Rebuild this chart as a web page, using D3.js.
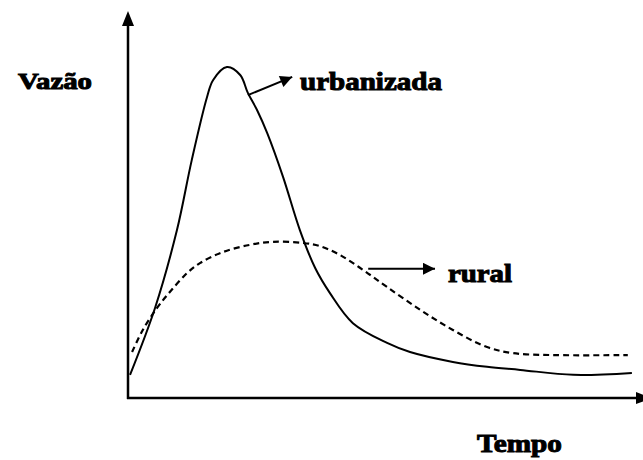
<!DOCTYPE html>
<html>
<head>
<meta charset="utf-8">
<script src="https://cdn.jsdelivr.net/npm/d3@7"></script>
<style>
  body { margin: 0; background: #fff; }
  text { font-family: "Liberation Serif", "Times New Roman", serif; font-weight: bold; fill: #000; }
</style>
</head>
<body>
<div id="chart"></div>
<script>
// hydrograph: time (0-100) vs discharge (0-100)
const urbanTime = [0.4, 5.3, 9.6, 12.5, 15.5, 16.7, 19.4, 22.0, 23.5, 25.3, 27.3, 30.4, 33.7, 36.7, 39.6, 44.1, 50.8, 55.3, 63.7, 70.4, 76.9, 87.3, 98.8];
const urbanFlow = [6.1, 23.7, 44.2, 62.6, 79.2, 83.7, 87.1, 85.0, 80.3, 75.8, 69.7, 58.2, 44.2, 34.2, 27.6, 19.7, 14.5, 12.1, 9.5, 8.2, 7.4, 6.1, 6.6];

const ruralTime = [0.8, 2.9, 5.7, 8.2, 11.6, 14.1, 18.6, 23.9, 28.4, 34.3, 37.6, 41.6, 46.1, 50.8, 57.3, 63.7, 70.4, 75.5, 83.3, 98.0];
const ruralFlow = [12.1, 17.9, 23.7, 27.9, 32.9, 35.5, 38.4, 40.3, 41.1, 40.8, 40.0, 37.6, 33.7, 29.2, 23.2, 17.9, 13.4, 11.8, 11.3, 11.3];

// annotation arrows [t0, q0, t1, q1]
const urbanArrow = [23.5, 79.7, 32.2, 84.5];
const ruralArrow = [47.1, 34.0, 60.2, 34.0];

const width = 643;
const height = 460;
const marginLeft = 128;
const marginBottom = 62;

const svg = d3.select("#chart")
    .append("svg")
    .attr("width", width)
    .attr("height", height)
    .attr("viewBox", [0, 0, width, height]);

const x = d3.scaleLinear([0, 100], [marginLeft, 638]);
const y = d3.scaleLinear([0, 100], [height - marginBottom, 18]);

const defs = svg.append("defs");
defs.append("marker")
    .attr("id", "head")
    .attr("viewBox", "0 0 10 10")
    .attr("refX", 10).attr("refY", 5)
    .attr("markerWidth", 7).attr("markerHeight", 6)
    .attr("markerUnits", "strokeWidth")
    .attr("orient", "auto")
    .append("path")
    .attr("d", "M0,0L10,5L0,10Z")
    .attr("fill", "#000");

// axes drawn as plain arrows, no ticks
const y0 = y(0);
svg.append("line")
    .attr("x1", marginLeft).attr("y1", y0 + 1)
    .attr("x2", marginLeft).attr("y2", 24)
    .attr("stroke", "#000").attr("stroke-width", 2.5);
svg.append("path")
    .attr("d", `M${marginLeft},11L${marginLeft - 6},26L${marginLeft + 6},26Z`)
    .attr("fill", "#000");

svg.append("line")
    .attr("x1", marginLeft - 1).attr("y1", y0)
    .attr("x2", 638).attr("y2", y0)
    .attr("stroke", "#000").attr("stroke-width", 2.5);
svg.append("path")
    .attr("d", `M636,${y0 - 6}L652,${y0}L636,${y0 + 6}Z`)
    .attr("fill", "#000");

const line = d3.line()
    .x(d => x(d[0]))
    .y(d => y(d[1]))
    .curve(d3.curveCatmullRom);

svg.append("path")
    .attr("d", line(d3.zip(urbanTime, urbanFlow)))
    .attr("fill", "none")
    .attr("stroke", "#000")
    .attr("stroke-width", 2);

svg.append("path")
    .attr("d", line(d3.zip(ruralTime, ruralFlow)))
    .attr("fill", "none")
    .attr("stroke", "#000")
    .attr("stroke-width", 2.2)
    .attr("stroke-dasharray", "6,4");

for (const a of [urbanArrow, ruralArrow]) {
    svg.append("line")
        .attr("x1", x(a[0])).attr("y1", y(a[1]))
        .attr("x2", x(a[2])).attr("y2", y(a[3]))
        .attr("stroke", "#000")
        .attr("stroke-width", 2)
        .attr("marker-end", "url(#head)");
}

const label = (txt, px, py, size, len) => svg.append("text")
    .attr("x", px).attr("y", py)
    .attr("font-family", "'Liberation Serif', serif")
    .attr("font-size", size)
    .attr("stroke", "#000").attr("stroke-width", 1)
    .attr("textLength", len)
    .attr("lengthAdjust", "spacingAndGlyphs")
    .text(txt);

label("Vazão", 18, 89, 23, 74);
label("urbanizada", 300, 90, 25, 142);
label("rural", 448, 282, 25, 64);
label("Tempo", 477, 452, 25, 85);
</script>
</body>
</html>
